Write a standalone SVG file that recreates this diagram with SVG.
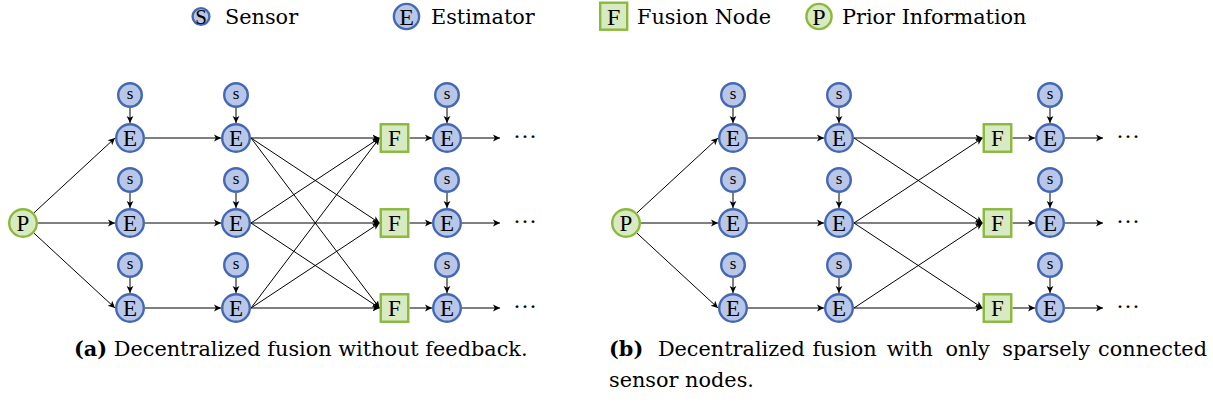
<svg xmlns="http://www.w3.org/2000/svg" width="1213" height="406" viewBox="0 0 1213 406">
  <style>
    .est { fill: #b8c7e8; stroke: #4468b4; stroke-width: 2.4; }
    .sen { fill: #b8c7e8; stroke: #4468b4; stroke-width: 2.4; }
    .fus { fill: #d8eac1; stroke: #8ab93c; stroke-width: 2.4; }
    .pri { fill: #d8eac1; stroke: #8ab93c; stroke-width: 2.4; }
    .mid { text-anchor: middle; }
    .bf { font-weight: bold; }
    .edge { fill: none; stroke: #000; stroke-width: 1; marker-end: url(#tip); }
  </style>
  <defs>
    <marker id="tip" markerWidth="8" markerHeight="8" refX="7" refY="4" orient="auto" markerUnits="userSpaceOnUse">
      <path d="M0,0.6 L7,4 L0,7.4 L1.8,4 Z" fill="#000"/>
    </marker>
    <circle id="eShape" r="13.8" class="est"/>
    <circle id="sShape" r="11.8" class="sen"/>
    <circle id="pShape" r="13.8" class="pri"/>
    <rect id="fShape" x="-13.75" y="-13.75" width="27.5" height="27.5" class="fus"/>
  </defs>

  <!-- legend -->
  <g id="legend">
    <g id="legend-sensor">
      <circle cx="201" cy="16.5" r="8.4" class="sen"/>
      <text class="mid" x="201" y="23.5" style="font-family: 'Liberation Serif'; font-size: 21px">S</text>
      <text x="225" y="24" style="font-family: 'DejaVu Serif'; font-size: 20.8px">Sensor</text>
    </g>
    <g id="legend-estimator">
      <circle cx="406.5" cy="16.5" r="12.6" class="est"/>
      <text class="mid" x="406.5" y="24.5" style="font-family: 'Liberation Serif'; font-size: 24px">E</text>
      <text x="431" y="24" style="font-family: 'DejaVu Serif'; font-size: 20.8px">Estimator</text>
    </g>
    <g id="legend-fusion">
      <rect x="600.2" y="2.7" width="27" height="27" class="fus"/>
      <text class="mid" x="613.7" y="24.5" style="font-family: 'Liberation Serif'; font-size: 24px">F</text>
      <text x="637" y="24" style="font-family: 'DejaVu Serif'; font-size: 20.8px">Fusion Node</text>
    </g>
    <g id="legend-prior">
      <circle cx="819" cy="16.5" r="12.6" class="pri"/>
      <text class="mid" x="819" y="24.5" style="font-family: 'Liberation Serif'; font-size: 24px">P</text>
      <text x="842" y="24" style="font-family: 'DejaVu Serif'; font-size: 20.8px">Prior Information</text>
    </g>
  </g>

  <!-- connectors -->
  <g id="connectors">
    <!-- (a) fully connected -->
    <path class="edge" d="M34,212.8 L115,138"/>
    <path class="edge" d="M38,223 L115,223"/>
    <path class="edge" d="M34,233.2 L115,308"/>
    <path class="edge" d="M130,108 L130,123"/>
    <path class="edge" d="M236,108 L236,123"/>
    <path class="edge" d="M447,108 L447,123"/>
    <path class="edge" d="M130,193 L130,208"/>
    <path class="edge" d="M236,193 L236,208"/>
    <path class="edge" d="M447,193 L447,208"/>
    <path class="edge" d="M130,278 L130,293"/>
    <path class="edge" d="M236,278 L236,293"/>
    <path class="edge" d="M447,278 L447,293"/>
    <path class="edge" d="M145,138 L221,138"/>
    <path class="edge" d="M145,223 L221,223"/>
    <path class="edge" d="M145,308 L221,308"/>
    <path class="edge" d="M251,138 L379.5,138"/>
    <path class="edge" d="M251,138 L379.5,223"/>
    <path class="edge" d="M251,138 L379.5,308"/>
    <path class="edge" d="M251,223 L379.5,138"/>
    <path class="edge" d="M251,223 L379.5,223"/>
    <path class="edge" d="M251,223 L379.5,308"/>
    <path class="edge" d="M251,308 L379.5,138"/>
    <path class="edge" d="M251,308 L379.5,223"/>
    <path class="edge" d="M251,308 L379.5,308"/>
    <path class="edge" d="M409.5,138 L432,138"/>
    <path class="edge" d="M409.5,223 L432,223"/>
    <path class="edge" d="M409.5,308 L432,308"/>
    <path class="edge" d="M462,138 L500,138"/>
    <path class="edge" d="M462,223 L500,223"/>
    <path class="edge" d="M462,308 L500,308"/>

    <!-- (b) sparsely connected -->
    <path class="edge" d="M637,212.8 L718,138"/>
    <path class="edge" d="M641,223 L718,223"/>
    <path class="edge" d="M637,233.2 L718,308"/>
    <path class="edge" d="M733,108 L733,123"/>
    <path class="edge" d="M839,108 L839,123"/>
    <path class="edge" d="M1050,108 L1050,123"/>
    <path class="edge" d="M733,193 L733,208"/>
    <path class="edge" d="M839,193 L839,208"/>
    <path class="edge" d="M1050,193 L1050,208"/>
    <path class="edge" d="M733,278 L733,293"/>
    <path class="edge" d="M839,278 L839,293"/>
    <path class="edge" d="M1050,278 L1050,293"/>
    <path class="edge" d="M748,138 L824,138"/>
    <path class="edge" d="M748,223 L824,223"/>
    <path class="edge" d="M748,308 L824,308"/>
    <path class="edge" d="M854,138 L982.5,138"/>
    <path class="edge" d="M854,138 L982.5,223"/>
    <path class="edge" d="M854,223 L982.5,138"/>
    <path class="edge" d="M854,223 L982.5,223"/>
    <path class="edge" d="M854,223 L982.5,308"/>
    <path class="edge" d="M854,308 L982.5,223"/>
    <path class="edge" d="M854,308 L982.5,308"/>
    <path class="edge" d="M1012.5,138 L1035,138"/>
    <path class="edge" d="M1012.5,223 L1035,223"/>
    <path class="edge" d="M1012.5,308 L1035,308"/>
    <path class="edge" d="M1065,138 L1103,138"/>
    <path class="edge" d="M1065,223 L1103,223"/>
    <path class="edge" d="M1065,308 L1103,308"/>
  </g>

  <!-- panel (a) nodes -->
  <g id="a-prior"><use href="#pShape" x="23" y="223"/><text class="mid" x="23" y="230.6" style="font-family: 'Liberation Serif'; font-size: 23px">P</text></g>
  <g id="a-s11"><use href="#sShape" x="130" y="95"/><text class="mid" x="130" y="98.9" style="font-family: 'Liberation Serif'; font-size: 17px">s</text></g>
  <g id="a-s12"><use href="#sShape" x="236" y="95"/><text class="mid" x="236" y="98.9" style="font-family: 'Liberation Serif'; font-size: 17px">s</text></g>
  <g id="a-s13"><use href="#sShape" x="447" y="95"/><text class="mid" x="447" y="98.9" style="font-family: 'Liberation Serif'; font-size: 17px">s</text></g>
  <g id="a-s21"><use href="#sShape" x="130" y="180"/><text class="mid" x="130" y="183.9" style="font-family: 'Liberation Serif'; font-size: 17px">s</text></g>
  <g id="a-s22"><use href="#sShape" x="236" y="180"/><text class="mid" x="236" y="183.9" style="font-family: 'Liberation Serif'; font-size: 17px">s</text></g>
  <g id="a-s23"><use href="#sShape" x="447" y="180"/><text class="mid" x="447" y="183.9" style="font-family: 'Liberation Serif'; font-size: 17px">s</text></g>
  <g id="a-s31"><use href="#sShape" x="130" y="265"/><text class="mid" x="130" y="268.9" style="font-family: 'Liberation Serif'; font-size: 17px">s</text></g>
  <g id="a-s32"><use href="#sShape" x="236" y="265"/><text class="mid" x="236" y="268.9" style="font-family: 'Liberation Serif'; font-size: 17px">s</text></g>
  <g id="a-s33"><use href="#sShape" x="447" y="265"/><text class="mid" x="447" y="268.9" style="font-family: 'Liberation Serif'; font-size: 17px">s</text></g>
  <g id="a-e11"><use href="#eShape" x="130" y="138"/><text class="mid" x="130" y="145.6" style="font-family: 'Liberation Serif'; font-size: 23px">E</text></g>
  <g id="a-e12"><use href="#eShape" x="236" y="138"/><text class="mid" x="236" y="145.6" style="font-family: 'Liberation Serif'; font-size: 23px">E</text></g>
  <g id="a-e13"><use href="#eShape" x="447" y="138"/><text class="mid" x="447" y="145.6" style="font-family: 'Liberation Serif'; font-size: 23px">E</text></g>
  <g id="a-e21"><use href="#eShape" x="130" y="223"/><text class="mid" x="130" y="230.6" style="font-family: 'Liberation Serif'; font-size: 23px">E</text></g>
  <g id="a-e22"><use href="#eShape" x="236" y="223"/><text class="mid" x="236" y="230.6" style="font-family: 'Liberation Serif'; font-size: 23px">E</text></g>
  <g id="a-e23"><use href="#eShape" x="447" y="223"/><text class="mid" x="447" y="230.6" style="font-family: 'Liberation Serif'; font-size: 23px">E</text></g>
  <g id="a-e31"><use href="#eShape" x="130" y="308"/><text class="mid" x="130" y="315.6" style="font-family: 'Liberation Serif'; font-size: 23px">E</text></g>
  <g id="a-e32"><use href="#eShape" x="236" y="308"/><text class="mid" x="236" y="315.6" style="font-family: 'Liberation Serif'; font-size: 23px">E</text></g>
  <g id="a-e33"><use href="#eShape" x="447" y="308"/><text class="mid" x="447" y="315.6" style="font-family: 'Liberation Serif'; font-size: 23px">E</text></g>
  <g id="a-f1"><use href="#fShape" x="394.5" y="138"/><text class="mid" x="394.5" y="145.6" style="font-family: 'Liberation Serif'; font-size: 23px">F</text></g>
  <g id="a-f2"><use href="#fShape" x="394.5" y="223"/><text class="mid" x="394.5" y="230.6" style="font-family: 'Liberation Serif'; font-size: 23px">F</text></g>
  <g id="a-f3"><use href="#fShape" x="394.5" y="308"/><text class="mid" x="394.5" y="315.6" style="font-family: 'Liberation Serif'; font-size: 23px">F</text></g>
  <g id="a-continue">
    <text x="513" y="143.5" style="font-family: 'Liberation Serif'; font-size: 24px">···</text>
    <text x="513" y="228.5" style="font-family: 'Liberation Serif'; font-size: 24px">···</text>
    <text x="513" y="313.5" style="font-family: 'Liberation Serif'; font-size: 24px">···</text>
  </g>

  <!-- panel (b) nodes -->
  <g id="b-prior"><use href="#pShape" x="626" y="223"/><text class="mid" x="626" y="230.6" style="font-family: 'Liberation Serif'; font-size: 23px">P</text></g>
  <g id="b-s11"><use href="#sShape" x="733" y="95"/><text class="mid" x="733" y="98.9" style="font-family: 'Liberation Serif'; font-size: 17px">s</text></g>
  <g id="b-s12"><use href="#sShape" x="839" y="95"/><text class="mid" x="839" y="98.9" style="font-family: 'Liberation Serif'; font-size: 17px">s</text></g>
  <g id="b-s13"><use href="#sShape" x="1050" y="95"/><text class="mid" x="1050" y="98.9" style="font-family: 'Liberation Serif'; font-size: 17px">s</text></g>
  <g id="b-s21"><use href="#sShape" x="733" y="180"/><text class="mid" x="733" y="183.9" style="font-family: 'Liberation Serif'; font-size: 17px">s</text></g>
  <g id="b-s22"><use href="#sShape" x="839" y="180"/><text class="mid" x="839" y="183.9" style="font-family: 'Liberation Serif'; font-size: 17px">s</text></g>
  <g id="b-s23"><use href="#sShape" x="1050" y="180"/><text class="mid" x="1050" y="183.9" style="font-family: 'Liberation Serif'; font-size: 17px">s</text></g>
  <g id="b-s31"><use href="#sShape" x="733" y="265"/><text class="mid" x="733" y="268.9" style="font-family: 'Liberation Serif'; font-size: 17px">s</text></g>
  <g id="b-s32"><use href="#sShape" x="839" y="265"/><text class="mid" x="839" y="268.9" style="font-family: 'Liberation Serif'; font-size: 17px">s</text></g>
  <g id="b-s33"><use href="#sShape" x="1050" y="265"/><text class="mid" x="1050" y="268.9" style="font-family: 'Liberation Serif'; font-size: 17px">s</text></g>
  <g id="b-e11"><use href="#eShape" x="733" y="138"/><text class="mid" x="733" y="145.6" style="font-family: 'Liberation Serif'; font-size: 23px">E</text></g>
  <g id="b-e12"><use href="#eShape" x="839" y="138"/><text class="mid" x="839" y="145.6" style="font-family: 'Liberation Serif'; font-size: 23px">E</text></g>
  <g id="b-e13"><use href="#eShape" x="1050" y="138"/><text class="mid" x="1050" y="145.6" style="font-family: 'Liberation Serif'; font-size: 23px">E</text></g>
  <g id="b-e21"><use href="#eShape" x="733" y="223"/><text class="mid" x="733" y="230.6" style="font-family: 'Liberation Serif'; font-size: 23px">E</text></g>
  <g id="b-e22"><use href="#eShape" x="839" y="223"/><text class="mid" x="839" y="230.6" style="font-family: 'Liberation Serif'; font-size: 23px">E</text></g>
  <g id="b-e23"><use href="#eShape" x="1050" y="223"/><text class="mid" x="1050" y="230.6" style="font-family: 'Liberation Serif'; font-size: 23px">E</text></g>
  <g id="b-e31"><use href="#eShape" x="733" y="308"/><text class="mid" x="733" y="315.6" style="font-family: 'Liberation Serif'; font-size: 23px">E</text></g>
  <g id="b-e32"><use href="#eShape" x="839" y="308"/><text class="mid" x="839" y="315.6" style="font-family: 'Liberation Serif'; font-size: 23px">E</text></g>
  <g id="b-e33"><use href="#eShape" x="1050" y="308"/><text class="mid" x="1050" y="315.6" style="font-family: 'Liberation Serif'; font-size: 23px">E</text></g>
  <g id="b-f1"><use href="#fShape" x="997.5" y="138"/><text class="mid" x="997.5" y="145.6" style="font-family: 'Liberation Serif'; font-size: 23px">F</text></g>
  <g id="b-f2"><use href="#fShape" x="997.5" y="223"/><text class="mid" x="997.5" y="230.6" style="font-family: 'Liberation Serif'; font-size: 23px">F</text></g>
  <g id="b-f3"><use href="#fShape" x="997.5" y="308"/><text class="mid" x="997.5" y="315.6" style="font-family: 'Liberation Serif'; font-size: 23px">F</text></g>
  <g id="b-continue">
    <text x="1116" y="143.5" style="font-family: 'Liberation Serif'; font-size: 24px">···</text>
    <text x="1116" y="228.5" style="font-family: 'Liberation Serif'; font-size: 24px">···</text>
    <text x="1116" y="313.5" style="font-family: 'Liberation Serif'; font-size: 24px">···</text>
  </g>

  <!-- subfigure captions -->
  <g id="captions">
    <text x="74" y="356" style="font-family: 'DejaVu Serif'; font-size: 20.8px"><tspan class="bf">(a)</tspan> Decentralized fusion without feedback.</text>
    <text y="356" style="font-family: 'DejaVu Serif'; font-size: 20.8px"><tspan class="bf" x="609">(b)</tspan><tspan x="657.9">Decentralized</tspan><tspan x="812.4">fusion</tspan><tspan x="886.7">with</tspan><tspan x="945.5">only</tspan><tspan x="1002.3">sparsely</tspan><tspan x="1098.1">connected</tspan></text>
    <text x="609" y="387" style="font-family: 'DejaVu Serif'; font-size: 20.8px">sensor nodes.</text>
  </g>
</svg>
